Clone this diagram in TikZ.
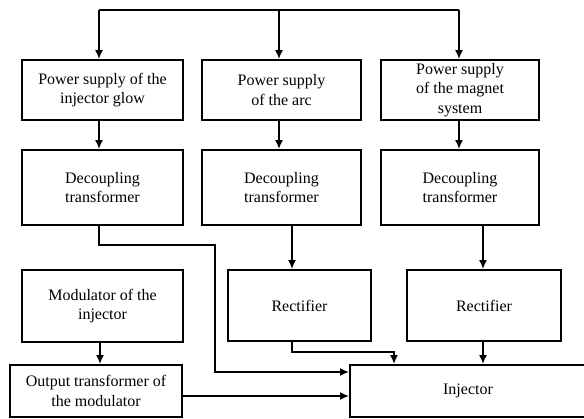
\documentclass[tikz,border=0pt]{standalone}
\usepackage{fontspec}
\setmainfont{Liberation Serif}
\usetikzlibrary{arrows.meta,calc}
\begin{document}
\begin{tikzpicture}[x=1pt,y=-1pt,
  box/.style={draw,line width=1.8pt,inner sep=0pt,align=center,font=\fontsize{16}{19.5}\selectfont},
  arr/.style={line width=1.8pt,-{Latex[length=9pt,width=8pt]}},
  ln/.style={line width=1.8pt}]
\useasboundingbox (0,0) rectangle (584,419);
% row 1
\node[box,minimum width=161pt,minimum height=60pt] (ps1) at (102.5,90) {Power supply of the\\injector glow};
\node[box,minimum width=159pt,minimum height=60pt] (ps2) at (281.5,90) {Power supply\\of the arc};
\node[box,minimum width=158pt,minimum height=60pt] (ps3) at (460,90) {Power supply\\of the magnet\\system};
% row 2
\node[box,minimum width=161pt,minimum height=75pt] (dc1) at (102.5,187.5) {Decoupling\\transformer};
\node[box,minimum width=159pt,minimum height=75pt] (dc2) at (281.5,187.5) {Decoupling\\transformer};
\node[box,minimum width=158pt,minimum height=75pt] (dc3) at (460,187.5) {Decoupling\\transformer};
% row 3
\node[box,minimum width=161pt,minimum height=72pt] (mod) at (102.5,306) {Modulator of the\\injector};
\node[box,minimum width=143pt,minimum height=71pt] (re2) at (299.5,305.5) {Rectifier};
\node[box,minimum width=154pt,minimum height=71pt] (re3) at (484,305.5) {Rectifier};
% row 4
\node[box,minimum width=172pt,minimum height=52pt] (out) at (96,391) {Output transformer of\\the modulator};
\node[box,minimum width=236pt,minimum height=52pt] (inj) at (468,391) {Injector};
% top distribution
\coordinate (t1) at (99,10);
\coordinate (t2) at (279,10);
\coordinate (t3) at (459,10);
\draw[ln] (t1) -- (t3);
\draw[arr] (t1) -- (t1 |- ps1.north);
\draw[arr] (t2) -- (t2 |- ps2.north);
\draw[arr] (t3) -- (t3 |- ps3.north);
% row1 -> row2
\draw[arr] (t1 |- ps1.south) -- (t1 |- dc1.north);
\draw[arr] (t2 |- ps2.south) -- (t2 |- dc2.north);
\draw[arr] (t3 |- ps3.south) -- (t3 |- dc3.north);
% decoupling 1 -> injector
\coordinate (b1) at (215,245);
\coordinate (b2) at (215,372);
\draw[arr] (t1 |- dc1.south) |- (b1) -- (b2) -- (b2 -| inj.west);
% decoupling -> rectifiers
\coordinate (r2) at (292,0);
\coordinate (r3) at (483,0);
\draw[arr] (r2 |- dc2.south) -- (r2 |- re2.north);
\draw[arr] (r3 |- dc3.south) -- (r3 |- re3.north);
% rectifiers -> injector
\coordinate (k1) at (394,352);
\draw[arr] (r2 |- re2.south) |- (k1) -- (k1 |- inj.north);
\draw[arr] (r3 |- re3.south) -- (r3 |- inj.north);
% modulator chain
\coordinate (m1) at (100,0);
\draw[arr] (m1 |- mod.south) -- (m1 |- out.north);
\coordinate (o1) at (0,396);
\draw[arr] (o1 -| out.east) -- (o1 -| inj.west);
\end{tikzpicture}
\end{document}
